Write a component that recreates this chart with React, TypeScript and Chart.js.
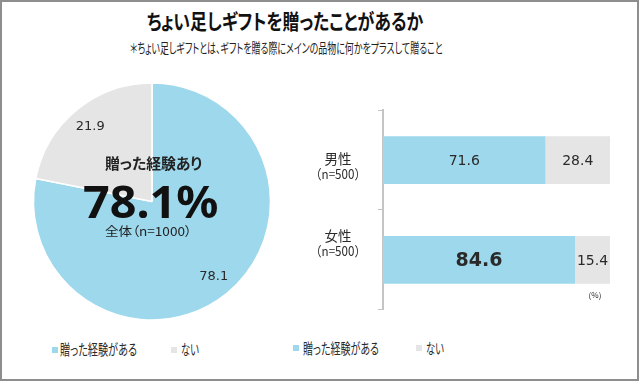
import React, { useEffect, useLayoutEffect, useRef, useState } from "react";
import { Chart, registerables } from "chart.js";
Chart.register(...registerables);

// ---------- data ----------
const TITLE = "ちょい足しギフトを贈ったことがあるか";
const SUBTITLE = "＊ちょい足しギフトとは、ギフトを贈る際にメインの品物に何かをプラスして贈ること";
const SERIES_NAMES = ["贈った経験がある", "ない"];
const TOTAL_VALUES = [78.1, 21.9];
const TOTAL_HEADLINE = "贈った経験あり";
const TOTAL_NOTE = "全体（n=1000）";
const GROUP_NAMES = ["男性", "女性"];
const GROUP_NOTES = ["（n=500）", "（n=500）"];
const GIVEN_VALUES = [71.6, 84.6];
const NOT_GIVEN_VALUES = [28.4, 15.4];
const UNIT_LABEL = "(%)";
const HIGHLIGHT_INDEX = 1;

// ---------- style ----------
const BLUE = "#9dd8ec";
const GRAY = "#e5e5e5";
const TEXT = "#2a2a2a";
const AXIS = "#c4c4c4";
const CJK = '"Noto Sans CJK JP", "Noto Sans", sans-serif';
const NUM = '"DejaVu Sans", sans-serif';
const LABEL_SHIFT = [6, -17];

function FitText(props: any) {
  const { text, x, cy, width, size, weight = 400, family = CJK, align = "left", k = 0.556, color = TEXT } = props;
  const ref = useRef<HTMLSpanElement>(null);
  const [scale, setScale] = useState(1);
  useLayoutEffect(() => {
    const measure = () => {
      const el = ref.current;
      if (el && el.offsetWidth) setScale(width / el.offsetWidth);
    };
    measure();
    (document as any).fonts?.ready?.then(measure);
  }, [text, width, size]);
  const left = align === "center" ? x - width / 2 : x;
  return (
    <span
      ref={ref}
      style={{
        position: "absolute",
        left,
        top: cy - k * size,
        fontSize: size,
        lineHeight: 1,
        fontFamily: family,
        fontWeight: weight,
        color,
        whiteSpace: "nowrap",
        fontFeatureSettings: '"palt"',
        transformOrigin: "0 0",
        transform: `scaleX(${scale})`,
        display: "inline-block",
      }}
    >
      {text}
    </span>
  );
}

const pieLabels = {
  id: "pieLabels",
  afterDatasetsDraw(chart: any) {
    const ctx = chart.ctx;
    const meta = chart.getDatasetMeta(0);
    ctx.save();
    ctx.font = `13px ${NUM}`;
    ctx.fillStyle = TEXT;
    ctx.textAlign = "center";
    ctx.textBaseline = "middle";
    meta.data.forEach((arc: any, i: number) => {
      const p = arc.getProps(["x", "y", "startAngle", "endAngle", "outerRadius"], true);
      const mid = (p.startAngle + p.endAngle) / 2;
      const r = p.outerRadius * 0.82;
      ctx.fillText(TOTAL_VALUES[i].toFixed(1), p.x + Math.cos(mid) * r, p.y + Math.sin(mid) * r);
    });
    ctx.restore();
  },
};

function PieChart() {
  const ref = useRef<HTMLCanvasElement>(null);
  useEffect(() => {
    const chart = new Chart(ref.current!, {
      type: "pie",
      data: {
        labels: SERIES_NAMES,
        datasets: [{ data: TOTAL_VALUES, backgroundColor: [BLUE, GRAY], borderColor: "#ffffff", borderWidth: 1.5 }],
      },
      options: {
        animation: false,
        responsive: false,
        radius: 118.5,
        layout: { padding: 0 },
        plugins: { legend: { display: false }, tooltip: { enabled: false } },
      } as any,
      plugins: [pieLabels],
    });
    return () => chart.destroy();
  }, []);
  return <canvas ref={ref} width={260} height={259} style={{ position: "absolute", left: 22, top: 72 }} />;
}

const barLabels = {
  id: "barLabels",
  afterDraw(chart: any) {
    const ctx = chart.ctx;
    ctx.save();
    ctx.textAlign = "center";
    ctx.textBaseline = "middle";
    ctx.fillStyle = TEXT;
    chart.data.datasets.forEach((ds: any, di: number) => {
      const meta = chart.getDatasetMeta(di);
      meta.data.forEach((bar: any, i: number) => {
        const p = bar.getProps(["x", "y", "base"], true);
        const big = di === 0 && i === HIGHLIGHT_INDEX;
        ctx.font = big ? `bold 19px ${NUM}` : `14px ${NUM}`;
        ctx.fillText((ds.data[i] as number).toFixed(1), (p.x + p.base) / 2, p.y + 1);
      });
    });
    const yScale = chart.scales.y;
    const cx = yScale.right - 45;
    GROUP_NAMES.forEach((name: string, i: number) => {
      const py = yScale.getPixelForValue(i) + LABEL_SHIFT[i];
      ctx.font = `13.5px ${CJK}`;
      ctx.fillText(name, cx, py - 7.5);
      ctx.font = `13px ${CJK}`;
      ctx.fillText(GROUP_NOTES[i], cx, py + 8, 56);
    });
    ctx.font = `8px ${CJK}`;
    ctx.fillText(UNIT_LABEL, chart.chartArea.right - 15, chart.chartArea.bottom - 15);
    ctx.restore();
  },
};

function BarChart() {
  const ref = useRef<HTMLCanvasElement>(null);
  useEffect(() => {
    const chart = new Chart(ref.current!, {
      type: "bar",
      data: {
        labels: GROUP_NAMES,
        datasets: [
          { label: SERIES_NAMES[0], data: GIVEN_VALUES, backgroundColor: BLUE, barPercentage: 0.48, categoryPercentage: 1 },
          { label: SERIES_NAMES[1], data: NOT_GIVEN_VALUES, backgroundColor: GRAY, barPercentage: 0.48, categoryPercentage: 1 },
        ],
      },
      options: {
        animation: false,
        responsive: false,
        indexAxis: "y",
        layout: { padding: { left: 0, right: 20, top: 10, bottom: 10 } },
        plugins: { legend: { display: false }, tooltip: { enabled: false } },
        scales: {
          x: { display: false, stacked: true, min: 0, max: 100 },
          y: {
            stacked: true,
            ticks: { display: true, callback: () => "", color: "rgba(0,0,0,0)" },
            grid: { drawOnChartArea: false, drawTicks: true, color: AXIS, tickLength: 5, lineWidth: 1 },
            border: { color: AXIS, width: 2 },
            afterFit: (scale: any) => {
              scale.width = 83;
            },
          },
        },
      } as any,
      plugins: [barLabels],
    });
    return () => chart.destroy();
  }, []);
  return <canvas ref={ref} width={330} height={220} style={{ position: "absolute", left: 300, top: 100 }} />;
}

function Swatch({ x, y, color }: any) {
  return <div style={{ position: "absolute", left: x, top: y, width: 6, height: 6, background: color }} />;
}

export default function App() {
  return (
    <div
      style={{
        position: "absolute",
        left: 0,
        top: 0,
        width: 639,
        height: 381,
        boxSizing: "border-box",
        border: "2px solid #8e8e8e",
        background: "#ffffff",
        overflow: "hidden",
      }}
    >
      <div style={{ position: "absolute", left: -2, top: -2, width: 639, height: 381 }}>
        <FitText text={TITLE} x={285} cy={22} width={276} size={21} weight={700} align="center" color="#111" />
        <FitText text={SUBTITLE} x={286.5} cy={49} width={313} size={13.5} align="center" color="#222" />
        <PieChart />
        <FitText text={TOTAL_HEADLINE} x={153.5} cy={163} width={97} size={15} weight={700} align="center" color="#222" />
        <FitText
          text={`${TOTAL_VALUES[0].toFixed(1)}%`}
          x={150.5}
          cy={201.7}
          width={135}
          size={45}
          weight={700}
          align="center"
          family='"Noto Sans", sans-serif'
          k={0.531}
          color="#111"
        />
        <FitText text={TOTAL_NOTE} x={148.5} cy={231.7} width={87} size={12.5} align="center" color="#222" />
        <BarChart />
        <Swatch x={52} y={347} color={BLUE} />
        <FitText text={SERIES_NAMES[0]} x={60} cy={349.5} width={77} size={15} />
        <Swatch x={171} y={347} color={GRAY} />
        <FitText text={SERIES_NAMES[1]} x={181} cy={349.5} width={18} size={15} />
        <Swatch x={293} y={345} color={BLUE} />
        <FitText text={SERIES_NAMES[0]} x={303} cy={348.3} width={76} size={15} />
        <Swatch x={416} y={345} color={GRAY} />
        <FitText text={SERIES_NAMES[1]} x={426} cy={348.3} width={18} size={15} />
      </div>
    </div>
  );
}
